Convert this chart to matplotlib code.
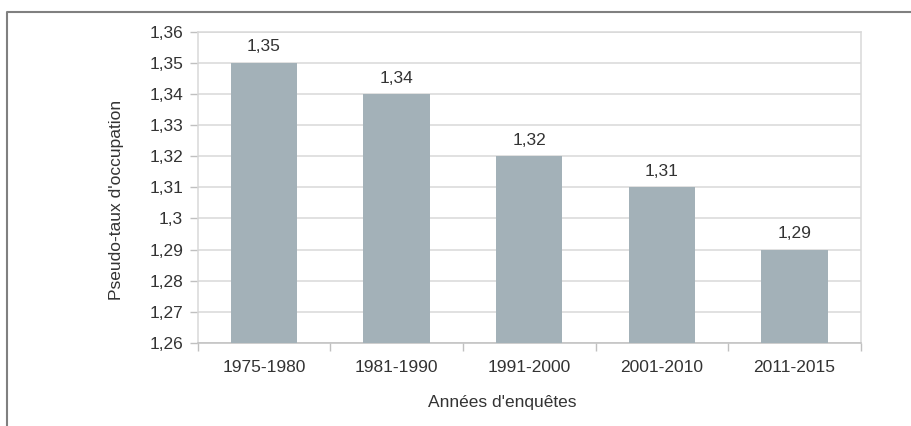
import matplotlib
matplotlib.use("Agg")
import matplotlib.pyplot as plt
from matplotlib.lines import Line2D
import numpy as np

categories = ["1975-1980", "1981-1990", "1991-2000", "2001-2010", "2011-2015"]
values = [1.35, 1.34, 1.32, 1.31, 1.29]
value_labels = ["1,35", "1,34", "1,32", "1,31", "1,29"]
y_ticks = [1.26, 1.27, 1.28, 1.29, 1.30, 1.31, 1.32, 1.33, 1.34, 1.35, 1.36]
y_tick_labels = ["1,26", "1,27", "1,28", "1,29", "1,3", "1,31", "1,32", "1,33", "1,34", "1,35", "1,36"]
x_label = "Années d'enquêtes"
y_label = "Pseudo-taux d'occupation"

plt.rcParams['font.family'] = ['Liberation Sans', 'DejaVu Sans']
W, H = 911, 426
fig = plt.figure(figsize=(W / 100, H / 100), dpi=100)
fig.patch.set_facecolor("white")

left, right, top, bottom = 197.7, 860.8, 31.7, 343.0
ax = fig.add_axes([left / W, 1 - bottom / H, (right - left) / W, (bottom - top) / H])

text_color = "#333333"
grid_color = "#d9d9d9"
bar_color = "#a3b1b8"

x = np.arange(len(categories))
ax.bar(x, values, width=0.5, color=bar_color, zorder=3)
ax.set_xlim(-0.5, len(categories) - 0.5)
ax.set_ylim(1.26, 1.36)

ax.set_yticks(y_ticks)
ax.set_yticklabels(y_tick_labels)
ax.yaxis.grid(True, color=grid_color, linewidth=1.1, zorder=0)
ax.set_axisbelow(True)

# category labels centered, ticks at boundaries
ax.set_xticks(np.arange(len(categories) + 1) - 0.5)
ax.set_xticklabels([])
ax.set_xticks(x, minor=True)
ax.set_xticklabels(categories, minor=True)
ax.tick_params(axis="x", which="minor", length=0, pad=12, labelsize=12.5, labelcolor=text_color)
ax.tick_params(axis="x", which="major", length=5.5, width=1, color="#c0c0c0", direction="out")
ax.tick_params(axis="y", length=5.5, width=1, color="#c0c0c0", pad=5, labelsize=12.5, labelcolor=text_color)

for s in ["left", "right", "top"]:
    ax.spines[s].set_color(grid_color)
    ax.spines[s].set_linewidth(1.1)
ax.spines["bottom"].set_color("#c0c0c0")
ax.spines["bottom"].set_linewidth(1.1)

for xi, v, lab in zip(x, values, value_labels):
    ax.annotate(lab, (xi, v), xytext=(0, 6), textcoords="offset points",
                ha="center", va="bottom", fontsize=12.5, color=text_color)

fig.text(502 / W, 1 - 402 / H, x_label, ha="center", va="center", fontsize=12.5, color=text_color)
fig.text(117 / W, 1 - 200 / H, y_label, ha="center", va="center", rotation=90, fontsize=12.5, color=text_color)

# outer frame (top and left edges)
fig.add_artist(Line2D([7 / W, 7 / W, 1.0], [0.0, 1 - 12 / H, 1 - 12 / H],
                      transform=fig.transFigure, color="#808080", linewidth=1.5))

fig.savefig("out.png", dpi=100)
